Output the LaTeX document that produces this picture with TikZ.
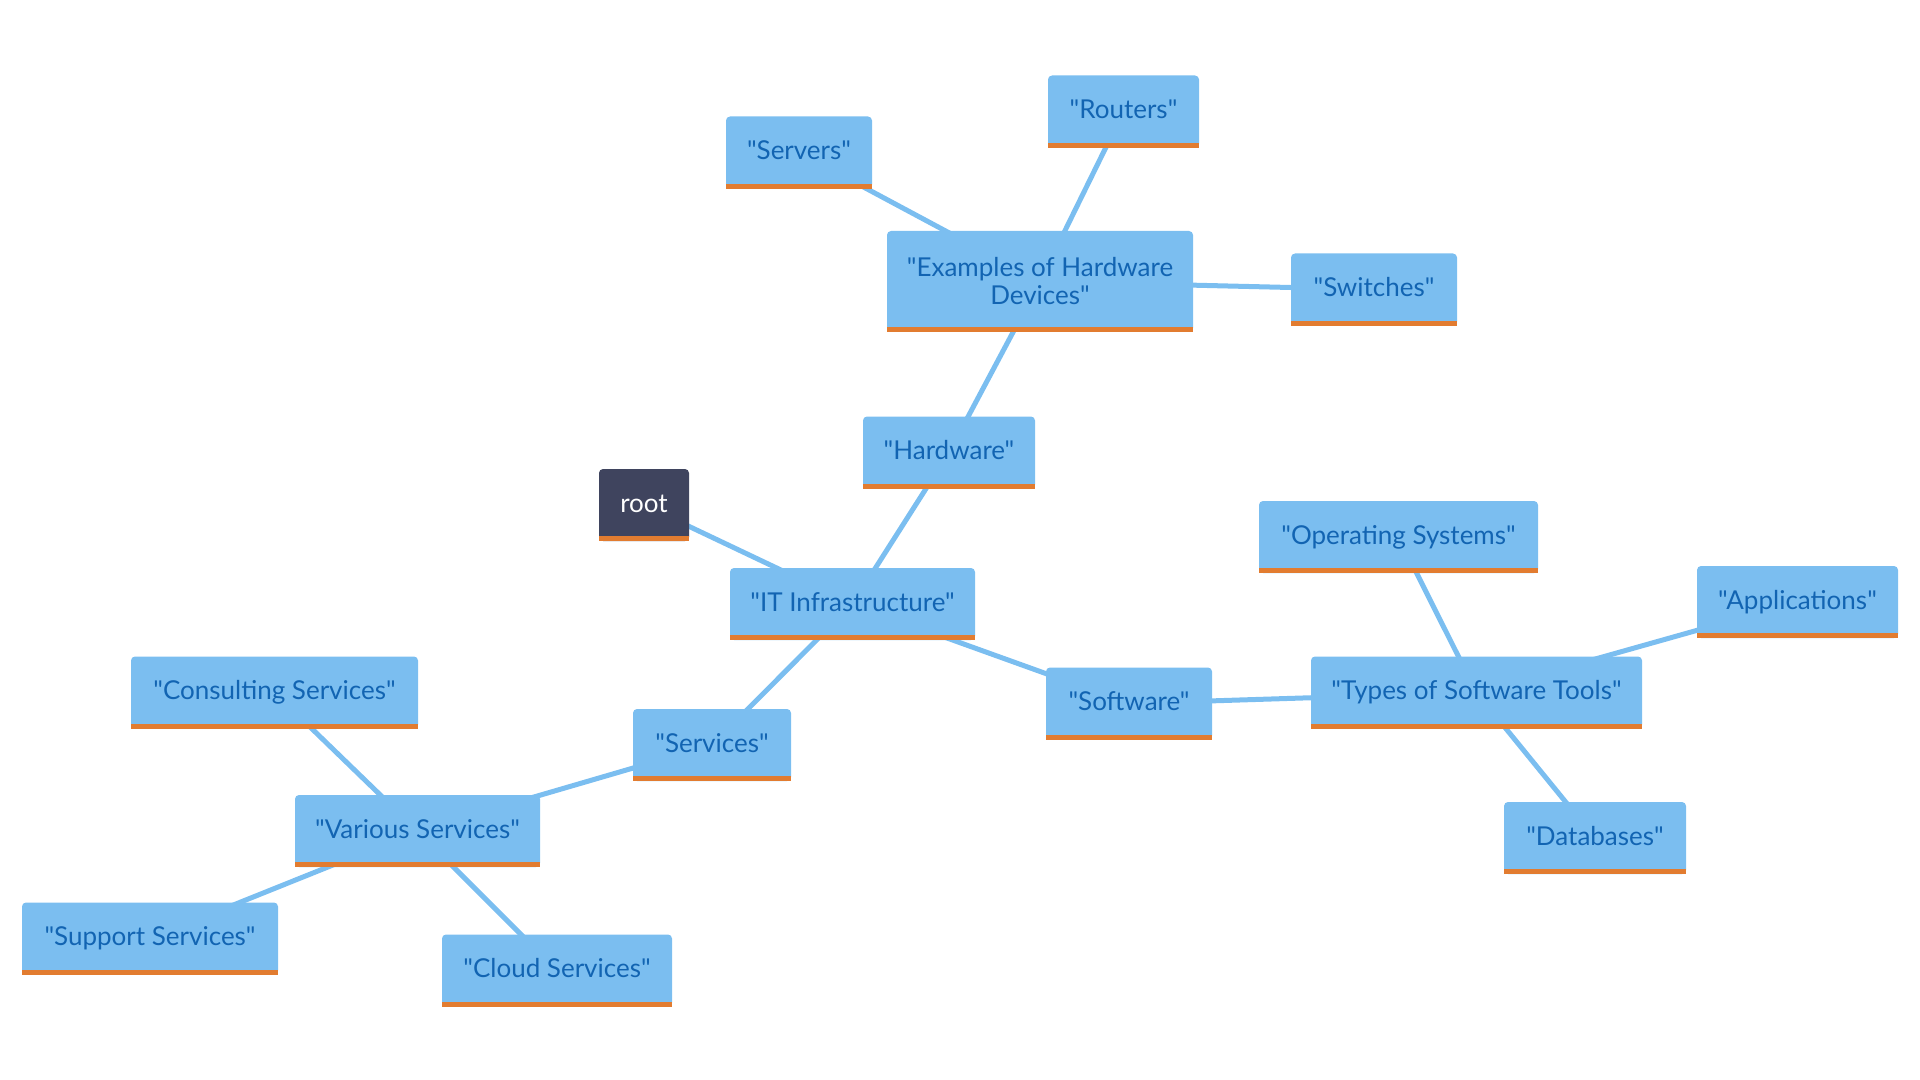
\documentclass[tikz,border=0pt]{standalone}
\usepackage{fontspec}
\newfontfamily\boxfont{Lato}
\usetikzlibrary{backgrounds}

\definecolor{boxblue}{HTML}{7BBEF0}
\definecolor{boxtext}{HTML}{1264B2}
\definecolor{barorange}{HTML}{E27C30}
\definecolor{rootgray}{HTML}{3F445E}

\begin{document}
\begin{tikzpicture}[
    x=0.5pt, y=-0.5pt,
    box/.style={
        rectangle,
        fill=boxblue,
        text=boxtext,
        rounded corners=2pt,
        minimum height=36pt,
        inner xsep=0pt,
        text height=10pt,
        text depth=3pt,
        text centered,
        align=center,
        font=\boxfont\fontsize{13}{14}\selectfont
    },
    rootbox/.style={
        box,
        fill=rootgray,
        text=white
    },
    link/.style={
        draw=boxblue,
        line width=2.5pt
    },
]
    \useasboundingbox (0,0) rectangle (1920,1080);

    \node (root) [rootbox, minimum width=45pt] at (644,505) {root};
    \node (it) [box, minimum width=122.5pt] at (852.5,604) {"IT Infrastructure"};
    \node (hw) [box, minimum width=86pt] at (949,452.5) {"Hardware"};
    \node (hwex) [box, minimum width=153pt, minimum height=50.5pt, text height={}, text depth={}] at (1040,281.5) {"Examples of Hardware\\Devices"};
    \node (servers) [box, minimum width=73pt] at (799,152.5) {"Servers"};
    \node (routers) [box, minimum width=75.5pt] at (1123.5,111.5) {"Routers"};
    \node (switches) [box, minimum width=83pt] at (1374,289.5) {"Switches"};
    \node (sw) [box, minimum width=83pt] at (1129,703.5) {"Software"};
    \node (swtypes) [box, minimum width=165.5pt] at (1476.5,692.5) {"Types of Software Tools"};
    \node (os) [box, minimum width=139.5pt] at (1398.5,537) {"Operating Systems"};
    \node (apps) [box, minimum width=100.5pt] at (1797.5,602) {"Applications"};
    \node (db) [box, minimum width=91pt] at (1595,838) {"Databases"};
    \node (srv) [box, minimum width=79pt] at (712,745) {"Services"};
    \node (various) [box, minimum width=122.5pt] at (417.5,831) {"Various Services"};
    \node (consult) [box, minimum width=143.5pt] at (274.5,692.5) {"Consulting Services"};
    \node (support) [box, minimum width=128pt] at (150,938.5) {"Support Services"};
    \node (cloud) [box, minimum width=115pt] at (557,970.5) {"Cloud Services"};

    % orange strip under every box
    \foreach \n in {root,it,hw,hwex,servers,routers,switches,sw,swtypes,os,apps,db,srv,various,consult,support,cloud}
        \fill[barorange] (\n.south west) rectangle ([yshift=2.5pt]\n.south east);

    \begin{scope}[on background layer]
        \draw[link] (root.center) -- (it.center);
        \draw[link] (it.center) -- (hw.center);
        \draw[link] (hw.center) -- (hwex.center);
        \draw[link] (hwex.center) -- (servers.center);
        \draw[link] (hwex.center) -- (routers.center);
        \draw[link] (hwex.center) -- (switches.center);
        \draw[link] (it.center) -- (sw.center);
        \draw[link] (sw.center) -- (swtypes.center);
        \draw[link] (swtypes.center) -- (os.center);
        \draw[link] (swtypes.center) -- (apps.center);
        \draw[link] (swtypes.center) -- (db.center);
        \draw[link] (it.center) -- (srv.center);
        \draw[link] (srv.center) -- (various.center);
        \draw[link] (various.center) -- (consult.center);
        \draw[link] (various.center) -- (support.center);
        \draw[link] (various.center) -- (cloud.center);
    \end{scope}
\end{tikzpicture}
\end{document}
